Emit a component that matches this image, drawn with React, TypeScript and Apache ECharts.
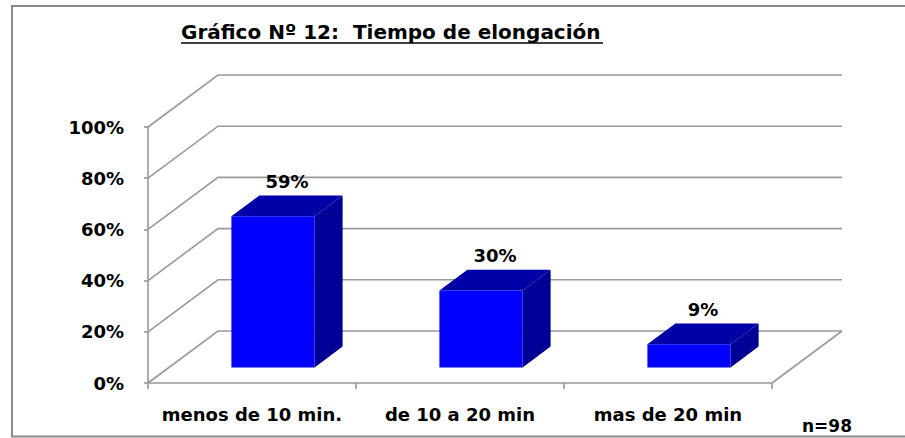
import React, { useEffect, useRef } from "react";
import * as echarts from "echarts";

const titleText = "Gráfico Nº 12:  Tiempo de elongación";
const categories = ["menos de 10 min.", "de 10 a 20 min", "mas de 20 min"];
const values = [59, 30, 9];
const yTicks = [0, 20, 40, 60, 80, 100];
const sampleNote = "n=98";

const FONT = "DejaVu Sans";
const GRAY = "#999999";
const DX = 70; // depth offset x
const DY = 52; // depth offset y
const F0 = 0.3; // bar front depth fraction
const F1 = 0.7; // bar back depth fraction

export default function App() {
  const ref = useRef<HTMLDivElement>(null);

  useEffect(() => {
    if (!ref.current) return;
    const chart = echarts.init(ref.current, null, { renderer: "svg" });

    const wallRender = (params: any, api: any) => {
      const v = api.value(1);
      const cs = params.coordSys;
      const L = cs.x;
      const R = cs.x + cs.width;
      const y = api.coord([0, v])[1];
      const children: any[] = [
        {
          type: "polyline",
          shape: { points: [[L, y], [L + DX, y - DY], [R + DX, y - DY]] },
          style: { stroke: GRAY, lineWidth: 1.6, fill: "none" },
        },
      ];
      if (v === 0) {
        children.push({
          type: "line",
          shape: { x1: R + DX, y1: y - DY, x2: R, y2: y },
          style: { stroke: GRAY, lineWidth: 1.6 },
        });
      }
      return { type: "group", children };
    };

    const barRender = (params: any, api: any) => {
      const idx = api.value(0);
      const val = api.value(1);
      const top = api.coord([idx, val]);
      const base = api.coord([idx, 0]);
      const bw = api.size([1, 0])[0] * 0.4;
      const x0 = top[0] - bw / 2;
      const x1 = x0 + bw;
      const fx = F0 * DX, fy = F0 * DY;
      const bx = F1 * DX, by = F1 * DY;
      const yb = base[1];
      const yt = top[1];
      return {
        type: "group",
        children: [
          {
            type: "polygon",
            shape: { points: [[x0 + fx, yb - fy], [x1 + fx, yb - fy], [x1 + fx, yt - fy], [x0 + fx, yt - fy]] },
            style: { fill: "#0000FF" },
          },
          {
            type: "polygon",
            shape: { points: [[x0 + fx, yt - fy], [x1 + fx, yt - fy], [x1 + bx, yt - by], [x0 + bx, yt - by]] },
            style: { fill: "#0000A8" },
          },
          {
            type: "polygon",
            shape: { points: [[x1 + fx, yb - fy], [x1 + bx, yb - by], [x1 + bx, yt - by], [x1 + fx, yt - fy]] },
            style: { fill: "#000096" },
          },
          {
            type: "text",
            x: top[0] + ((F0 + F1) / 2) * DX,
            y: yt - by - 14,
            style: {
              text: val + "%",
              fontFamily: FONT,
              fontWeight: "bold",
              fontSize: 18,
              fill: "#000",
              align: "center",
              verticalAlign: "middle",
            },
          },
        ],
      };
    };

    chart.setOption({
      animation: false,
      backgroundColor: "#fff",
      grid: { left: 148, right: 133, top: 127, bottom: 55, containLabel: false },
      xAxis: {
        type: "category",
        data: categories,
        boundaryGap: true,
        axisLine: { show: true, lineStyle: { color: GRAY, width: 1.6 } },
        axisTick: { show: true, length: 6, lineStyle: { color: GRAY, width: 1.6 } },
        axisLabel: {
          interval: 0,
          margin: 22,
          fontFamily: FONT,
          fontWeight: "bold",
          fontSize: 18,
          color: "#000",
        },
        splitLine: { show: false },
      },
      yAxis: {
        type: "value",
        min: 0,
        max: 100,
        interval: 20,
        axisLine: { show: true, lineStyle: { color: GRAY, width: 1.6 } },
        axisTick: { show: true, length: 4, lineStyle: { color: GRAY, width: 1.6 } },
        axisLabel: {
          formatter: "{value}%",
          margin: 24,
          fontFamily: FONT,
          fontWeight: "bold",
          fontSize: 18,
          color: "#000",
          padding: [5, 0, 0, 0],
        },
        splitLine: { show: false },
      },
      series: [
        {
          type: "custom",
          name: "walls",
          renderItem: wallRender,
          data: yTicks.map((v) => [0, v]),
          encode: { x: 0, y: 1 },
          z: 1,
          silent: true,
        },
        {
          type: "custom",
          name: "Tiempo de elongación",
          renderItem: barRender,
          data: values.map((v, i) => [i, v]),
          encode: { x: 0, y: 1 },
          z: 3,
        },
      ],
      graphic: [
        {
          type: "text",
          x: 181,
          y: 31.5,
          style: {
            text: titleText,
            fontFamily: FONT,
            fontWeight: "bold",
            fontSize: 20,
            fill: "#000",
            align: "left",
            verticalAlign: "middle",
          },
        },
        {
          type: "line",
          shape: { x1: 181, y1: 43, x2: 603, y2: 43 },
          style: { stroke: "#000", lineWidth: 1.5 },
        },
        {
          type: "text",
          x: 802,
          y: 426,
          style: {
            text: sampleNote,
            fontFamily: FONT,
            fontWeight: "bold",
            fontSize: 17,
            fill: "#000",
            align: "left",
            verticalAlign: "middle",
          },
        },
        {
          type: "rect",
          z: 100,
          shape: { x: 12, y: 6, width: 920, height: 430.5 },
          style: { fill: "none", stroke: "#8a8a8a", lineWidth: 2 },
        },
      ],
    });

    return () => chart.dispose();
  }, []);

  return (
    <div
      ref={ref}
      style={{ position: "fixed", left: 0, top: 0, width: 905, height: 438 }}
    />
  );
}
